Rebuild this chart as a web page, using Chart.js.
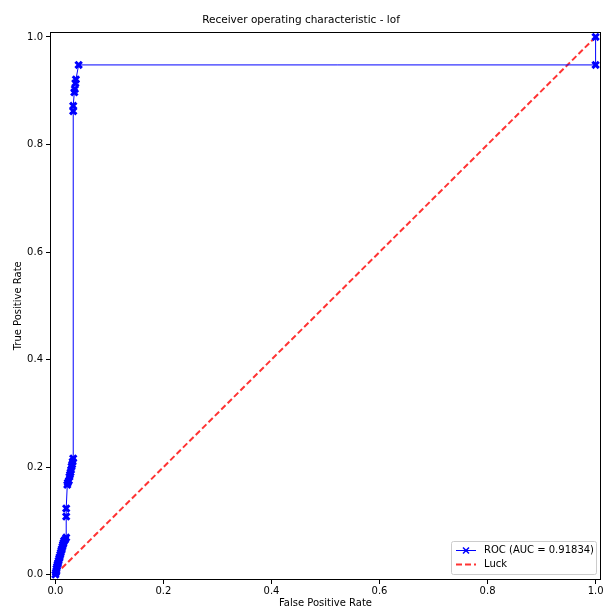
<!DOCTYPE html>
<html>
<head>
<meta charset="utf-8">
<script src="https://cdn.jsdelivr.net/npm/chart.js@4.4.0/dist/chart.umd.min.js"></script>
<style>
  html, body { margin: 0; padding: 0; background: #fff; }
  #wrap { width: 603px; height: 609px; }
</style>
</head>
<body>
<div id="wrap"><canvas id="c" width="603" height="609"></canvas></div>
<script>
// ---- data ----
const chartTitle = 'Receiver operating characteristic - lof';
const rocLabel = 'ROC (AUC = 0.91834)';
const luckLabel = 'Luck';
const xTitle = 'False Positive Rate';
const yTitle = 'True Positive Rate';
const tickValues = [0.0, 0.2, 0.4, 0.6, 0.8, 1.0];

const fpr = [0.000, 0.001, 0.002, 0.002, 0.003, 0.004, 0.005, 0.006, 0.007, 0.008,
             0.009, 0.010, 0.011, 0.012, 0.013, 0.014, 0.015, 0.016, 0.018, 0.020,
             0.020, 0.020,
             0.022, 0.023, 0.025, 0.026, 0.027, 0.028, 0.029, 0.030, 0.031, 0.032, 0.033,
             0.033, 0.033, 0.035, 0.036, 0.037, 0.038, 0.043,
             1.000, 1.000];
const tpr = [0.000, 0.004, 0.007, 0.011, 0.015, 0.019, 0.022, 0.026, 0.030, 0.033,
             0.037, 0.041, 0.045, 0.048, 0.052, 0.056, 0.059, 0.063, 0.065, 0.069,
             0.108, 0.123,
             0.167, 0.171, 0.175, 0.182, 0.186, 0.190, 0.195, 0.201, 0.205, 0.210, 0.216,
             0.862, 0.872, 0.897, 0.903, 0.914, 0.921, 0.948,
             0.948, 1.000];
const luckX = [0, 1];
const luckY = [0, 1];

const FONT = "'DejaVu Sans', sans-serif";
const BLUE = '#0000ff';
const RED = 'rgba(255,0,0,0.8)';
const ZERO_PAD = () => ({ left: 0, top: 0, right: 0, bottom: 0 });

const framePlugin = {
  id: 'frame',
  afterDraw(chart) {
    const { ctx, chartArea: a } = chart;
    ctx.save();
    ctx.strokeStyle = '#000';
    ctx.lineWidth = 1;
    ctx.strokeRect(Math.round(a.left) + 0.5, Math.round(a.top) + 0.5,
                   Math.round(a.right - a.left) - 1, Math.round(a.bottom - a.top) - 1);
    // legend box
    const bx = 451.5, by = 541.5, bw = 145, bh = 33;
    ctx.beginPath();
    if (ctx.roundRect) ctx.roundRect(bx, by, bw, bh, 2); else ctx.rect(bx, by, bw, bh);
    ctx.fillStyle = 'rgba(255,255,255,0.8)';
    ctx.fill();
    ctx.strokeStyle = '#cccccc';
    ctx.lineWidth = 1;
    ctx.stroke();
    // ROC entry
    const y1 = 550.5, y2 = 564.5, lx0 = 456, lx1 = 476;
    ctx.strokeStyle = BLUE;
    ctx.lineWidth = 1;
    ctx.beginPath(); ctx.moveTo(lx0, y1); ctx.lineTo(lx1, y1); ctx.stroke();
    ctx.lineWidth = 1.5;
    const mx = (lx0 + lx1) / 2, r = 3;
    ctx.beginPath();
    ctx.moveTo(mx - r, y1 - r); ctx.lineTo(mx + r, y1 + r);
    ctx.moveTo(mx - r, y1 + r); ctx.lineTo(mx + r, y1 - r);
    ctx.stroke();
    // Luck entry
    ctx.strokeStyle = RED;
    ctx.lineWidth = 2;
    ctx.setLineDash([6, 3]);
    ctx.beginPath(); ctx.moveTo(lx0, y2); ctx.lineTo(lx1, y2); ctx.stroke();
    ctx.setLineDash([]);
    ctx.fillStyle = '#000';
    ctx.font = '10px ' + FONT;
    ctx.textBaseline = 'middle';
    ctx.textAlign = 'left';
    ctx.fillText(rocLabel, 484, y1);
    ctx.fillText(luckLabel, 484, y2);
    ctx.restore();
  }
};

const rocData = fpr.map((x, i) => ({ x: x, y: tpr[i] }));
const luckData = luckX.map((x, i) => ({ x: x, y: luckY[i] }));

new Chart(document.getElementById('c'), {
  type: 'scatter',
  data: {
    datasets: [
      {
        label: luckLabel,
        data: luckData,
        showLine: true,
        borderColor: RED,
        borderWidth: 2,
        borderDash: [6, 3],
        pointRadius: 0,
        order: 1
      },
      {
        label: rocLabel,
        data: rocData,
        showLine: true,
        borderColor: BLUE,
        backgroundColor: BLUE,
        borderWidth: 1,
        pointStyle: 'crossRot',
        pointRadius: 4.5,
        pointBorderWidth: 3,
        pointBorderColor: BLUE,
        clip: 8,
        order: 0
      }
    ]
  },
  options: {
    responsive: false,
    animation: false,
    layout: { autoPadding: false, padding: { left: 1, right: 2, top: 0, bottom: 0 } },
    plugins: {
      legend: { display: false },
      tooltip: { enabled: false },
      title: {
        display: true,
        text: chartTitle,
        color: '#000',
        font: { family: FONT, size: 10.5, weight: 'normal' },
        padding: { top: 14, bottom: 5 }
      }
    },
    scales: {
      x: {
        type: 'linear',
        min: -0.01, max: 1.01,
        afterBuildTicks(s) { s.ticks = tickValues.map(v => ({ value: v })); },
        afterFit(s) { s.height = 29; s.paddingLeft = 0; s.paddingRight = 0; s.getPadding = ZERO_PAD; },
        grid: { drawOnChartArea: false, drawTicks: true, tickLength: 4, color: '#000', tickColor: '#000' },
        border: { display: false },
        ticks: {
          color: '#000', padding: 1,
          font: { family: FONT, size: 10 },
          maxRotation: 0,
          callback: v => Number(v).toFixed(1)
        },
        title: {
          display: true, text: xTitle, color: '#000',
          font: { family: FONT, size: 10 },
          padding: { top: 0, bottom: 0 }
        }
      },
      y: {
        type: 'linear',
        min: -0.01, max: 1.01,
        afterBuildTicks(s) { s.ticks = tickValues.map(v => ({ value: v })); },
        afterFit(s) { s.width = 49; s.paddingTop = 0; s.paddingBottom = 0; s.getPadding = ZERO_PAD; },
        grid: { drawOnChartArea: false, drawTicks: true, tickLength: 4, color: '#000', tickColor: '#000' },
        border: { display: false },
        ticks: {
          color: '#000', padding: 3,
          font: { family: FONT, size: 10 },
          callback: v => Number(v).toFixed(1)
        },
        title: {
          display: true, text: yTitle, color: '#000',
          font: { family: FONT, size: 10 },
          padding: { top: 11, bottom: 0 }
        }
      }
    }
  },
  plugins: [framePlugin]
});
</script>
</body>
</html>
